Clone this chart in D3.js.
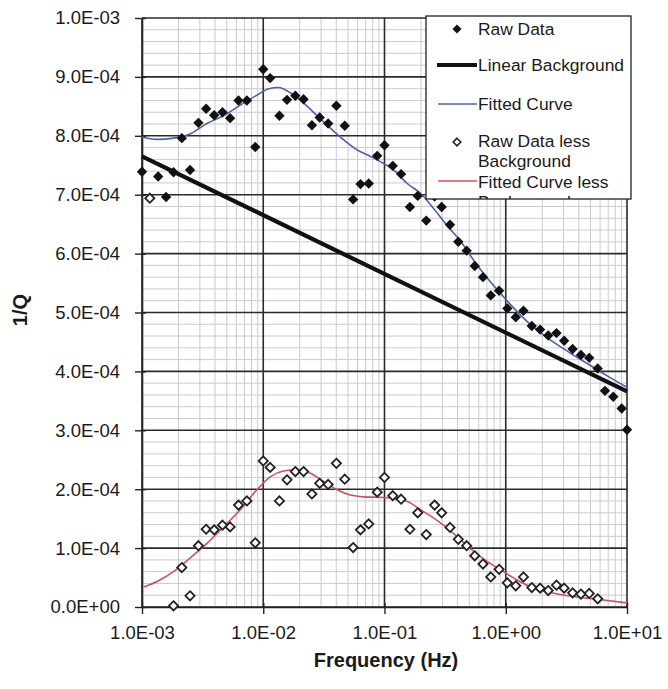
<!DOCTYPE html>
<html>
<head>
<meta charset="utf-8">
<script src="https://cdn.jsdelivr.net/npm/d3@7"></script>
<style>
  html, body { margin: 0; padding: 0; background: #ffffff; }
  svg { display: block; font-family: "Liberation Sans", Arial, sans-serif; }
</style>
</head>
<body>
<svg id="chart" width="668" height="689"></svg>
<script>
// ---------------- DATA ----------------
// Frequencies (Hz) of measured points
const freq = [1.00e-3, 1.16e-3, 1.36e-3, 1.58e-3, 1.82e-3, 2.13e-3, 2.49e-3, 2.92e-3, 3.38e-3, 3.94e-3,
  4.61e-3, 5.33e-3, 6.25e-3, 7.33e-3, 8.59e-3, 1.00e-2, 1.14e-2, 1.36e-2, 1.57e-2, 1.84e-2,
  2.15e-2, 2.52e-2, 2.92e-2, 3.43e-2, 4.01e-2, 4.70e-2, 5.51e-2, 6.34e-2, 7.41e-2, 8.71e-2,
  0.100, 0.117, 0.137, 0.162, 0.188, 0.221, 0.259, 0.296, 0.347, 0.406,
  0.476, 0.555, 0.649, 0.752, 0.881, 1.03, 1.21, 1.40, 1.64, 1.92,
  2.24, 2.62, 3.03, 3.56, 4.17, 4.88, 5.73, 6.58, 7.71, 9.04, 10.0];

// Raw Data, 1/Q in units of 1E-04
const rawData = [7.39, null, 7.31, 6.96, 7.38, 7.96, 7.42, 8.22, 8.46, 8.35,
  8.40, 8.30, 8.60, 8.60, 7.81, 9.13, 8.98, 8.34, 8.61, 8.68,
  8.62, 8.18, 8.31, 8.21, 8.51, 8.17, 6.92, 7.18, 7.19, 7.66,
  7.84, 7.49, 7.35, 6.79, 6.98, 6.56, 6.97, 6.79, 6.49, 6.20,
  6.05, 5.79, 5.60, 5.29, 5.37, 5.07, 4.92, 5.03, 4.77, 4.71,
  4.61, 4.65, 4.52, 4.38, 4.28, 4.23, 4.05, 3.67, 3.57, 3.37, 3.01];

// Raw Data less Background, 1/Q in units of 1E-04
const rawLessBg = [null, 6.94, null, null, 0.02, 0.67, 0.19, 1.04, 1.32, 1.31,
  1.39, 1.36, 1.73, 1.80, 1.09, 2.48, 2.37, 1.80, 2.16, 2.30,
  2.30, 1.92, 2.10, 2.08, 2.44, 2.17, 1.01, 1.31, 1.41, 1.95,
  2.20, 1.89, 1.83, 1.32, 1.60, 1.23, 1.73, 1.60, 1.35, 1.15,
  1.04, 0.87, 0.73, 0.51, 0.64, 0.41, 0.36, 0.51, 0.33, 0.32,
  0.28, 0.37, 0.32, 0.24, 0.22, 0.23, 0.14, null, null, null, null];

// Linear Background (end points), units of 1E-04
const bgFreq = [1.0e-3, 10.0];
const bgVals = [7.65, 3.66];

// Fitted Curve, units of 1E-04
const fitFreq = [1.00e-3, 1.32e-3, 1.82e-3, 2.49e-3, 3.43e-3, 4.70e-3, 6.46e-3, 8.87e-3, 1.11e-2, 1.34e-2,
  1.67e-2, 2.15e-2, 2.78e-2, 3.58e-2, 4.61e-2, 5.95e-2, 7.66e-2, 9.86e-2, 0.119, 0.154,
  0.199, 0.255, 0.330, 0.425, 0.547, 0.706, 0.910, 1.17, 1.61, 2.21, 3.24, 4.73, 6.92, 10.0];
const fitVals = [7.98, 7.94, 7.96, 8.03, 8.21, 8.34, 8.52, 8.69, 8.80, 8.82,
  8.73, 8.56, 8.34, 8.13, 7.93, 7.76, 7.65, 7.53, 7.42, 7.19,
  7.02, 6.76, 6.47, 6.21, 5.88, 5.58, 5.32, 5.07, 4.79, 4.57, 4.34, 4.13, 3.92, 3.73];

// Fitted Curve less Background, units of 1E-04
const fitLessFreq = [1.03e-3, 1.32e-3, 1.82e-3, 2.49e-3, 3.43e-3, 4.70e-3, 6.46e-3, 8.87e-3, 1.14e-2, 1.47e-2,
  1.90e-2, 2.45e-2, 3.15e-2, 4.06e-2, 5.24e-2, 6.75e-2, 9.86e-2, 0.154, 0.199, 0.255,
  0.330, 0.425, 0.547, 0.706, 0.910, 1.17, 1.61, 2.21, 3.24, 4.73, 6.92, 10.0];
const fitLessVals = [0.34, 0.43, 0.60, 0.83, 1.08, 1.36, 1.65, 1.99, 2.21, 2.31,
  2.33, 2.27, 2.13, 1.99, 1.90, 1.87, 1.86, 1.79, 1.65, 1.51,
  1.34, 1.14, 0.94, 0.77, 0.63, 0.49, 0.34, 0.26, 0.19, 0.15, 0.11, 0.07];

const unit = 1e-4;
const xTicks = [1e-3, 1e-2, 1e-1, 1e0, 1e1];
const xTickLabels = ["1.0E-03", "1.0E-02", "1.0E-01", "1.0E+00", "1.0E+01"];
const yTicks = [0, 1e-4, 2e-4, 3e-4, 4e-4, 5e-4, 6e-4, 7e-4, 8e-4, 9e-4, 1e-3];
const yTickLabels = ["0.0E+00", "1.0E-04", "2.0E-04", "3.0E-04", "4.0E-04", "5.0E-04",
  "6.0E-04", "7.0E-04", "8.0E-04", "9.0E-04", "1.0E-03"];
const legendLabels = ["Raw Data", "Linear Background", "Fitted Curve", "Raw Data less Background", "Fitted Curve less Background"];

// ---------------- LAYOUT ----------------
const svg = d3.select("#chart");
const L = 142, R = 627, T = 18, B = 607;
const x = d3.scaleLog().domain([1e-3, 10]).range([L, R]);
const y = d3.scaleLinear().domain([0, 1e-3]).range([B, T]);

const blue = "#4d5fb0";
const red = "#d2505e";

// minor grid
const minorX = [];
for (let e = -3; e < 1; e++) for (let k = 2; k <= 9; k++) minorX.push(k * Math.pow(10, e));
const minorY = [];
for (let i = 0; i < 50; i++) if (i % 5 !== 0) minorY.push(i * 2e-5);

const grid = svg.append("g");
grid.selectAll("line.mx").data(minorX).enter().append("line")
  .attr("x1", d => x(d)).attr("x2", d => x(d)).attr("y1", T).attr("y2", B)
  .attr("stroke", "#c9cbd3").attr("stroke-width", 1);
grid.selectAll("line.my").data(minorY).enter().append("line")
  .attr("x1", L).attr("x2", R).attr("y1", d => y(d)).attr("y2", d => y(d))
  .attr("stroke", "#c9cbd3").attr("stroke-width", 1);
grid.selectAll("line.Mx").data(xTicks).enter().append("line")
  .attr("x1", d => x(d)).attr("x2", d => x(d)).attr("y1", T).attr("y2", B)
  .attr("stroke", "#2a2a2a").attr("stroke-width", 1.6);
grid.selectAll("line.My").data(yTicks).enter().append("line")
  .attr("x1", L).attr("x2", R).attr("y1", d => y(d)).attr("y2", d => y(d))
  .attr("stroke", "#2a2a2a").attr("stroke-width", 1.6);

// axes
const yAxis = d3.axisLeft(y).tickValues(yTicks)
  .tickFormat((d, i) => yTickLabels[i]).tickSizeInner(7).tickSizeOuter(0).tickPadding(15);
const gy = svg.append("g").attr("transform", `translate(${L},0)`).call(yAxis);
gy.select(".domain").attr("stroke", "#222").attr("stroke-width", 1.6);
gy.selectAll(".tick line").attr("stroke", "#222").attr("stroke-width", 1.4).attr("x2", -7).attr("x1", 4);
gy.selectAll(".tick text").attr("font-size", "18.5px").attr("fill", "#1a1a1a")
  .attr("font-family", "'Liberation Sans', Arial, sans-serif");

const xAxis = d3.axisBottom(x).tickValues(xTicks)
  .tickFormat((d, i) => xTickLabels[i]).tickSizeInner(7).tickSizeOuter(0).tickPadding(12);
const gx = svg.append("g").attr("transform", `translate(0,${B})`).call(xAxis);
gx.select(".domain").attr("stroke", "#222").attr("stroke-width", 1.6);
gx.selectAll(".tick line").attr("stroke", "#222").attr("stroke-width", 1.4).attr("y1", -4).attr("y2", 7);
gx.selectAll(".tick text").attr("font-size", "18.5px").attr("fill", "#1a1a1a")
  .attr("font-family", "'Liberation Sans', Arial, sans-serif");

// axis titles
svg.append("text").attr("x", 386).attr("y", 667).attr("text-anchor", "middle")
  .attr("font-size", "20px").attr("font-weight", "bold").attr("fill", "#1a1a1a")
  .text("Frequency (Hz)");
svg.append("text").attr("transform", "translate(27,310) rotate(-90)").attr("text-anchor", "middle")
  .attr("font-size", "20px").attr("font-weight", "bold").attr("fill", "#1a1a1a")
  .text("1/Q");

// lines
const line = d3.line().x(d => x(d[0])).y(d => y(d[1] * unit)).curve(d3.curveMonotoneX);
const plot = svg.append("g");
plot.append("path").datum(bgFreq.map((f, i) => [f, bgVals[i]]))
  .attr("d", d3.line().x(d => x(d[0])).y(d => y(d[1] * unit)))
  .attr("fill", "none").attr("stroke", "#111").attr("stroke-width", 4.2);
plot.append("path").datum(fitFreq.map((f, i) => [f, fitVals[i]]))
  .attr("d", line).attr("fill", "none").attr("stroke", blue).attr("stroke-width", 1.6);
plot.append("path").datum(fitLessFreq.map((f, i) => [f, fitLessVals[i]]))
  .attr("d", line).attr("fill", "none").attr("stroke", red).attr("stroke-width", 1.6);

// markers
const diamond = r => `M0,${-r}L${r},0L0,${r}L${-r},0Z`;
const rawPts = freq.map((f, i) => [f, rawData[i]]).filter(d => d[1] !== null);
const lessPts = freq.map((f, i) => [f, rawLessBg[i]]).filter(d => d[1] !== null);
plot.selectAll("path.raw").data(rawPts).enter().append("path")
  .attr("d", diamond(5.2)).attr("transform", d => `translate(${x(d[0])},${y(d[1] * unit)})`)
  .attr("fill", "#111");
plot.selectAll("path.less").data(lessPts).enter().append("path")
  .attr("d", diamond(4.6)).attr("transform", d => `translate(${x(d[0])},${y(d[1] * unit)})`)
  .attr("fill", "#fff").attr("stroke", "#222").attr("stroke-width", 1.8);

// legend
const lg = svg.append("g");
const LX = 426, LY = 16, LW = 205, LH = 183;
lg.append("clipPath").attr("id", "lgclip").append("rect")
  .attr("x", LX).attr("y", LY).attr("width", LW).attr("height", LH);
lg.append("rect").attr("x", LX).attr("y", LY).attr("width", LW).attr("height", LH)
  .attr("fill", "#fff").attr("stroke", "#222").attr("stroke-width", 1.3);
const lc = lg.append("g").attr("clip-path", "url(#lgclip)");
const tx = 478, fs = "17.4px";
// Raw Data
lc.append("path").attr("d", diamond(4.6)).attr("transform", "translate(457,29)").attr("fill", "#111");
lc.append("text").attr("x", tx).attr("y", 35).attr("font-size", fs).attr("fill", "#1a1a1a").text(legendLabels[0]);
// Linear Background
lc.append("line").attr("x1", 437).attr("x2", 477).attr("y1", 65).attr("y2", 65).attr("stroke", "#111").attr("stroke-width", 4.2);
lc.append("text").attr("x", tx).attr("y", 71).attr("font-size", fs).attr("fill", "#1a1a1a").text(legendLabels[1]);
// Fitted Curve
lc.append("line").attr("x1", 438).attr("x2", 477).attr("y1", 104).attr("y2", 104).attr("stroke", blue).attr("stroke-width", 1.6);
lc.append("text").attr("x", tx).attr("y", 110).attr("font-size", fs).attr("fill", "#1a1a1a").text(legendLabels[2]);
// Raw Data less Background (wrapped)
lc.append("path").attr("d", diamond(3.8)).attr("transform", "translate(457,142)")
  .attr("fill", "#fff").attr("stroke", "#222").attr("stroke-width", 1.6);
const w4 = legendLabels[3].split(" ");
lc.append("text").attr("x", tx).attr("y", 147).attr("font-size", fs).attr("fill", "#1a1a1a").text(w4.slice(0, 3).join(" "));
lc.append("text").attr("x", tx).attr("y", 167).attr("font-size", fs).attr("fill", "#1a1a1a").text(w4.slice(3).join(" "));
// Fitted Curve less Background (wrapped, clipped)
lc.append("line").attr("x1", 438).attr("x2", 477).attr("y1", 181).attr("y2", 181).attr("stroke", red).attr("stroke-width", 1.6);
const w5 = legendLabels[4].split(" ");
lc.append("text").attr("x", tx).attr("y", 188).attr("font-size", fs).attr("fill", "#1a1a1a").text(w5.slice(0, 3).join(" "));
lc.append("text").attr("x", tx).attr("y", 208).attr("font-size", fs).attr("fill", "#1a1a1a").text(w5.slice(3).join(" "));
</script>
</body>
</html>
